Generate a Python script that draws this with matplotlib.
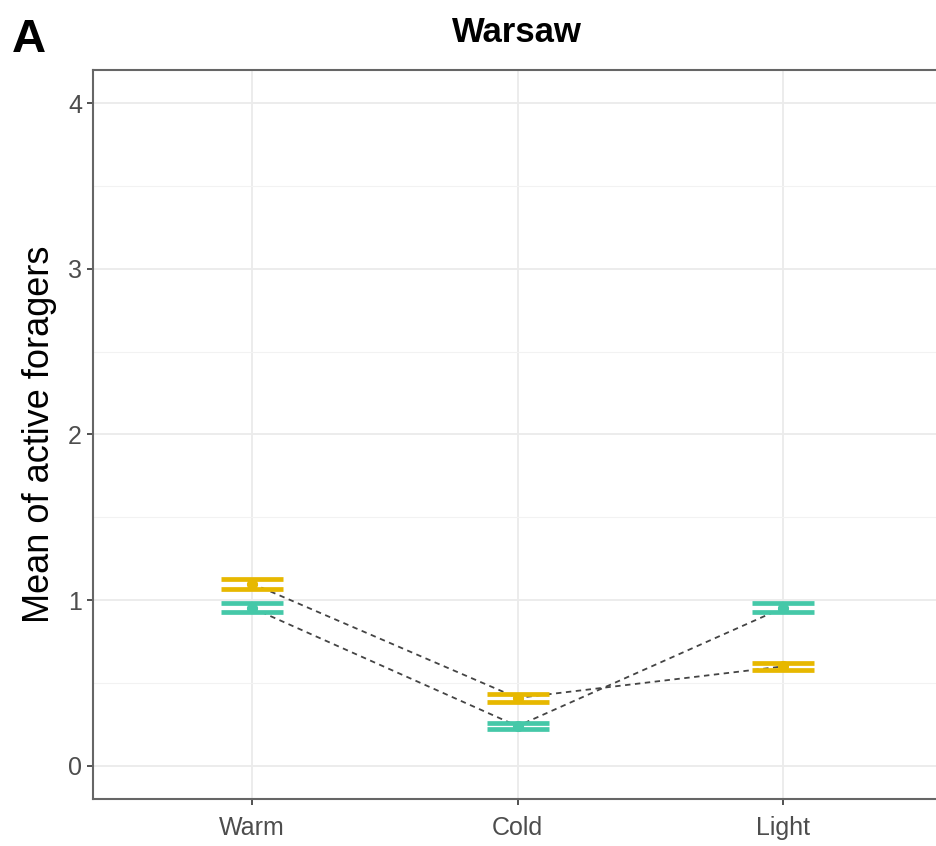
import matplotlib
matplotlib.use("Agg")
import matplotlib.pyplot as plt
import numpy as np

categories = ["Warm", "Cold", "Light"]
yellow_mean = [1.10, 0.41, 0.60]
yellow_se = [0.03, 0.025, 0.02]
teal_mean = [0.953, 0.24, 0.953]
teal_se = [0.027, 0.02, 0.027]
y_ticks = [0, 1, 2, 3, 4]

YELLOW = "#E7B800"
TEAL = "#45C8A8"

plt.rcParams['font.family'] = ['Liberation Sans', 'DejaVu Sans']

fig = plt.figure(figsize=(9.36, 8.46), dpi=100)
ax = fig.add_axes([93/936, 1 - 799/846, 849/936, (799-70)/846])

x = np.arange(1, len(categories) + 1)

for means, ses, col in [(yellow_mean, yellow_se, YELLOW), (teal_mean, teal_se, TEAL)]:
    ax.plot(x, means, linestyle=(0, (3, 2.5)), color="#444444", lw=1.3, zorder=2)
    ax.errorbar(x, means, yerr=ses, fmt="none", ecolor=col, elinewidth=3,
                capsize=22, capthick=3.4, zorder=3)
    ax.plot(x, means, "o", color=col, ms=7, zorder=4)

ax.set_xlim(0.4, 3.6)
ax.set_ylim(-0.2, 4.2)
ax.set_xticks(x)
ax.set_xticklabels(categories)
ax.set_yticks(y_ticks)
ax.set_yticks([0.5, 1.5, 2.5, 3.5], minor=True)
ax.tick_params(axis="both", which="major", labelsize=18, labelcolor="#4D4D4D",
               color="#333333", length=4, width=1.2, pad=4)
ax.tick_params(axis="x", which="major", pad=8)
ax.tick_params(axis="both", which="minor", length=0)

ax.grid(True, which="major", color="#EBEBEB", lw=1.3)
ax.grid(True, which="minor", axis="y", color="#F2F2F2", lw=0.8)
ax.set_axisbelow(True)
for s in ax.spines.values():
    s.set_color("#666666")
    s.set_linewidth(1.5)

ax.set_ylabel("Mean of active foragers", fontsize=26, color="black", labelpad=8)
fig.text(517/936, 1 - 32/846, "Warsaw", ha="center", va="center", fontsize=25,
         fontweight="bold")
fig.text(12/936, 1 - 40/846, "A", ha="left", va="center", fontsize=34,
         fontweight="bold")

fig.savefig("out.png", dpi=100)
